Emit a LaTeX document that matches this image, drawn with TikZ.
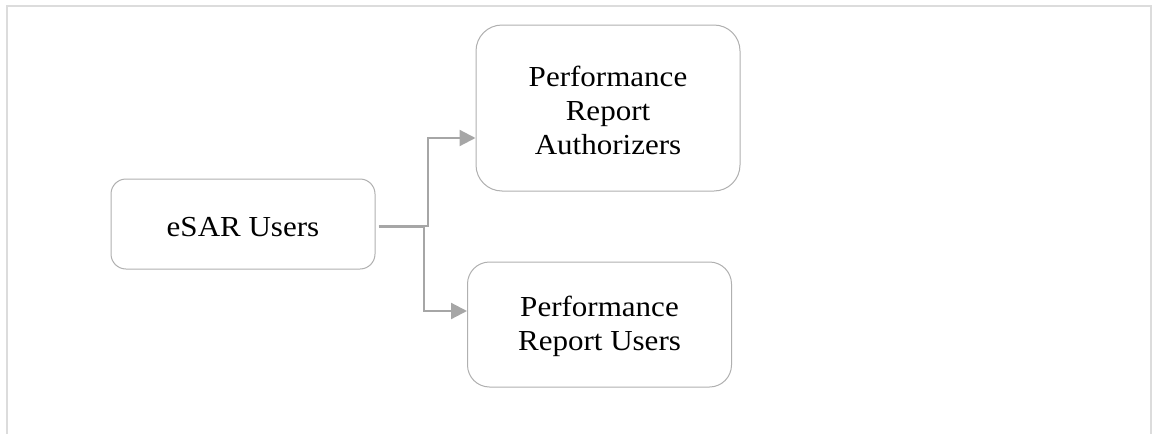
\documentclass[tikz,border=0pt]{standalone}
\usepackage{fontspec}
\setmainfont{Liberation Serif}[FakeStretch=1.07]
\usetikzlibrary{arrows.meta}
\definecolor{framegray}{HTML}{DCDCDC}
\definecolor{boxgray}{HTML}{B0B0B0}
\definecolor{arrgray}{HTML}{A6A6A6}
\tikzset{
  box/.style={draw=boxgray, line width=1pt, fill=white, align=center,
    minimum width=264pt, inner sep=0pt, text=black,
    font=\fontsize{29pt}{34pt}\selectfont},
  conn/.style={draw=arrgray, line width=2.2pt,
    -{Triangle[length=16pt,width=16pt]}},
}
\begin{document}
\begin{tikzpicture}[x=1pt,y=-1pt]
\useasboundingbox (0,0) rectangle (1152,434);
\draw[framegray, line width=2pt] (7,434) -- (7,6) -- (1151,6) -- (1151,434);
\node[box, minimum height=90pt, rounded corners=15pt] (esar) at (243,224) {};
\node[box, minimum height=166pt, rounded corners=26pt] (auth) at (608,108) {};
\node[box, minimum height=125pt, rounded corners=22pt] (users) at (599.5,324.5) {};
\node[box, draw=none, fill=none, minimum width=0pt, minimum height=0pt, yshift=-3pt] (esart) at (esar) {eSAR Users};
\node[box, draw=none, fill=none, minimum width=0pt, minimum height=0pt, yshift=-2pt] (autht) at (auth) {Performance\\Report\\Authorizers};
\node[box, draw=none, fill=none, minimum width=0pt, minimum height=0pt, yshift=-2pt] (userst) at (users) {Performance\\Report Users};
\coordinate (s1) at ([xshift=3pt,yshift=-2pt]esar.east);
\coordinate (s2) at ([xshift=3pt,yshift=-3pt]esar.east);
\coordinate (t1) at (auth.west |- 0,138);
\coordinate (t2) at (users.west |- 0,311);
\draw[conn] (s1) -- (428,226) |- (t1);
\draw[conn] (s2) -- (424,227) |- (t2);
\end{tikzpicture}
\end{document}
